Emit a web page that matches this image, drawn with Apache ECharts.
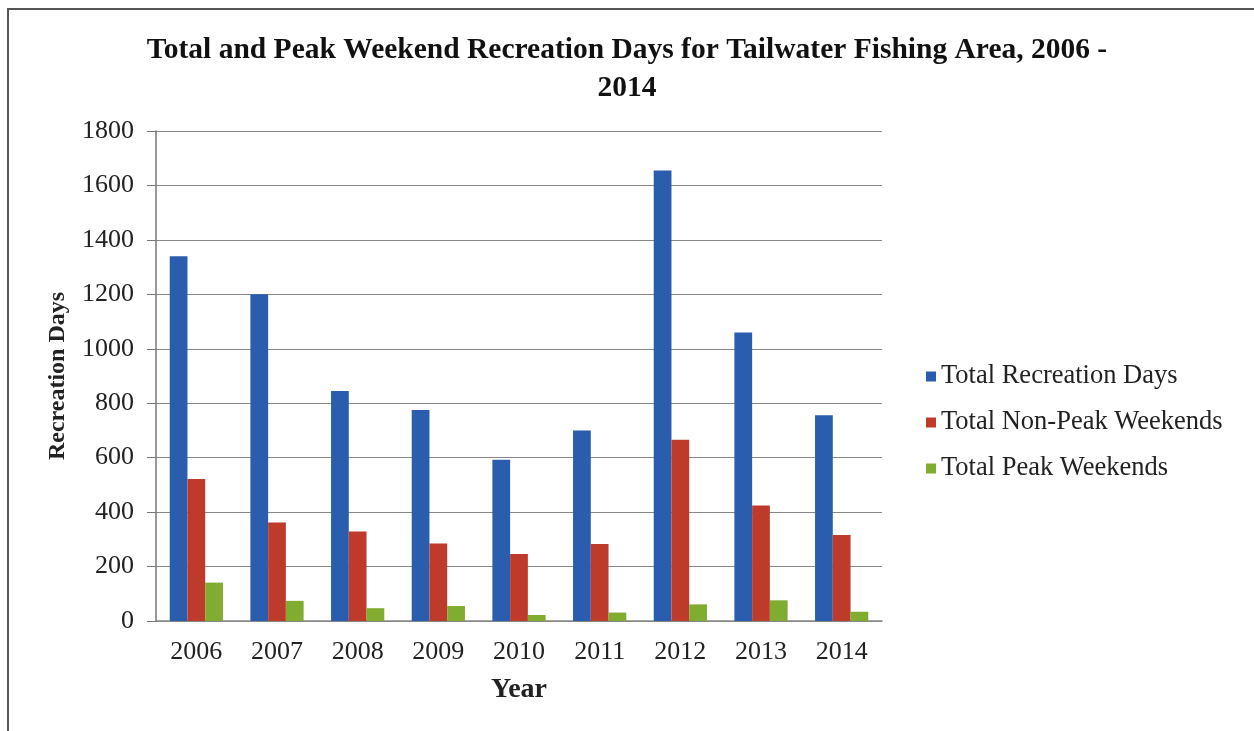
<!DOCTYPE html>
<html>
<head>
<meta charset="utf-8">
<script src="https://cdn.jsdelivr.net/npm/echarts@6/dist/echarts.min.js"></script>
<style>
html,body{margin:0;padding:0;background:#fff;}
#chart{width:1254px;height:731px;}
</style>
</head>
<body>
<div id="chart"></div>
<script>
const years = ['2006','2007','2008','2009','2010','2011','2012','2013','2014'];
const totalRecreationDays = [1340, 1200, 845, 775, 592, 700, 1655, 1060, 756];
const totalNonPeakWeekends = [522, 362, 329, 285, 246, 283, 666, 424, 316];
const totalPeakWeekends = [141, 74, 47, 55, 22, 31, 61, 76, 34];
const seriesNames = ['Total Recreation Days', 'Total Non-Peak Weekends', 'Total Peak Weekends'];
const yTicks = [0, 200, 400, 600, 800, 1000, 1200, 1400, 1600, 1800];

const FONT = '"Liberation Serif", "Times New Roman", serif';
const chart = echarts.init(document.getElementById('chart'));
chart.setOption({
  backgroundColor: '#fff',
  animation: false,
  title: {
    text: 'Total and Peak Weekend Recreation Days for Tailwater Fishing Area, 2006 -\n2014',
    left: 'center',
    top: 26,
    textStyle: { fontFamily: FONT, fontWeight: 'bold', fontSize: 29.5, color: '#111', lineHeight: 38 }
  },
  graphic: [{
    type: 'rect', silent: true,
    shape: { x: 8, y: 9, width: 1260, height: 760 },
    style: { fill: 'none', stroke: '#555', lineWidth: 2 }
  }],
  legend: {
    orient: 'vertical',
    left: 921, top: 358,
    icon: 'rect', itemWidth: 10, itemHeight: 10, itemGap: 19,
    data: seriesNames,
    textStyle: { fontFamily: FONT, fontSize: 26.5, color: '#222', padding: [0,0,0,0] }
  },
  grid: { left: 156, right: 372, top: 131, bottom: 110, containLabel: false },
  xAxis: {
    type: 'category',
    data: years,
    name: 'Year',
    nameLocation: 'middle',
    nameGap: 55,
    nameTextStyle: { fontFamily: FONT, fontWeight: 'bold', fontSize: 28, color: '#222' },
    axisLine: { lineStyle: { color: '#888', width: 1.5 } },
    axisTick: { show: false },
    axisLabel: { fontFamily: FONT, fontSize: 26, color: '#222', margin: 18 }
  },
  yAxis: {
    type: 'value',
    min: 0, max: 1800, interval: 200,
    name: 'Recreation Days',
    nameLocation: 'middle',
    nameRotate: 90,
    nameGap: 86,
    nameTextStyle: { fontFamily: FONT, fontWeight: 'bold', fontSize: 24, color: '#222' },
    axisLine: { show: true, lineStyle: { color: '#777', width: 1.5 } },
    axisTick: { show: true, inside: false, length: 9, lineStyle: { color: '#777' } },
    axisLabel: { fontFamily: FONT, fontSize: 26, color: '#222', margin: 22,
      formatter: v => yTicks.includes(v) ? String(v) : '' },
    splitLine: { show: true, lineStyle: { color: '#888', width: 1.2 } }
  },
  series: [
    { name: seriesNames[0], type: 'bar', data: totalRecreationDays, barGap: '0%', barCategoryGap: '34%',
      itemStyle: { color: '#2B5DAE' } },
    { name: seriesNames[1], type: 'bar', data: totalNonPeakWeekends, barGap: '0%', barCategoryGap: '34%',
      itemStyle: { color: '#BE3B2C' } },
    { name: seriesNames[2], type: 'bar', data: totalPeakWeekends, barGap: '0%', barCategoryGap: '34%',
      itemStyle: { color: '#80AC30' } }
  ]
});
</script>
</body>
</html>
